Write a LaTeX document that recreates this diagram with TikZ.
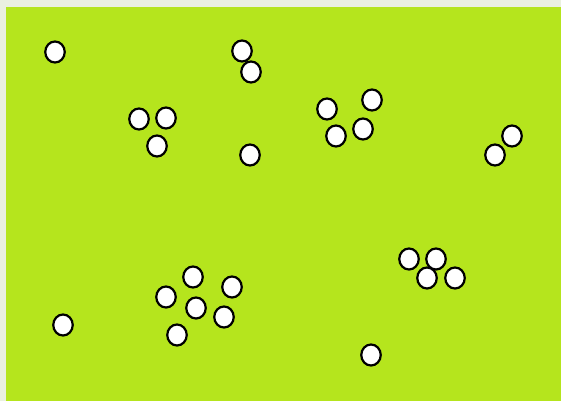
\documentclass[tikz,border=0pt]{standalone}
\usetikzlibrary{shapes.geometric}
\definecolor{bgframe}{HTML}{EAF0E0}
\definecolor{field}{HTML}{B5E51D}
\begin{document}
\begin{tikzpicture}[x=1pt,y=-1pt,
  ball/.style={ellipse,draw=black,fill=white,line width=2.2pt,minimum width=19.5pt,minimum height=21pt,inner sep=0pt}]
\useasboundingbox (0,0) rectangle (561,401);
\fill[bgframe] (0,0) rectangle (561,401);
\fill[field] (6,7) rectangle (561,401);
\foreach \n/\x/\y in {1/55/52,2/242/51,3/251/72,4/139/119,5/166/118,6/157/146,7/250/155,
  8/327/109,9/372/100,10/336/136,11/363/129,12/512/136,13/495/155,14/409/259,15/436/259,
  16/427/278,17/455/278,18/193/277,19/166/297,20/232/287,21/196/308,22/224/317,23/177/335,
  24/63/325,25/371/355}
  \node[ball] (b\n) at (\x,\y) {};
\end{tikzpicture}
\end{document}
